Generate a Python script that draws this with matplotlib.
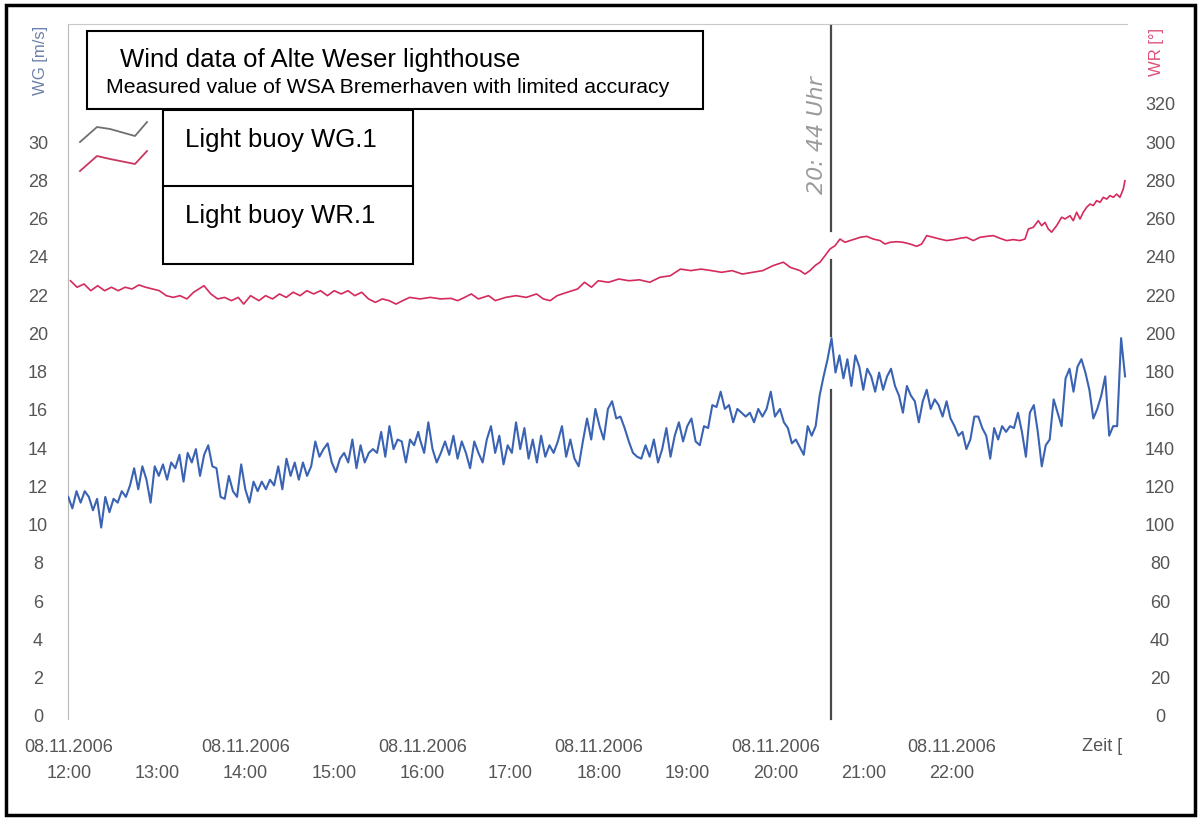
import numpy as np
import matplotlib
matplotlib.use("Agg")
import matplotlib.pyplot as plt
from matplotlib.patches import Rectangle
from matplotlib.lines import Line2D

plt.rcParams['font.family'] = ['Liberation Sans', 'DejaVu Sans']

# ---------------- data ----------------
# Wind speed WG [m/s], light buoy WG.1, three consecutive pieces (minutes after 12:00)
wg_part1_span = (-0.5, 237.3)
wg_part1 = [11.4, 10.8, 11.7, 11.1, 11.7, 11.4, 10.7, 11.3, 9.8, 11.4,
            10.6, 11.3, 11.1, 11.7, 11.4, 12.0, 12.9, 11.8, 13.0, 12.3,
            11.1, 13.0, 12.5, 13.1, 12.3, 13.2, 12.9, 13.6, 12.2, 13.7,
            13.2, 13.9, 12.5, 13.6, 14.1, 13.0, 12.9, 11.4, 11.3, 12.5,
            11.7, 11.4, 13.1, 11.8, 11.1, 12.2, 11.7, 12.2, 11.8, 12.3,
            12.0, 13.0, 11.8, 13.4, 12.5, 13.2, 12.3, 13.2, 12.5, 13.0,
            14.3, 13.5, 13.9, 14.2, 13.2, 12.7, 13.4, 13.7, 13.2, 14.4,
            12.9, 14.1, 13.2, 13.7, 13.9, 13.7, 14.8, 13.5, 15.1, 13.9,
            14.4, 14.3, 13.2, 14.4, 14.1, 14.8]
wg_part2_span = (238.5, 479.7)
wg_part2 = [14.4, 13.7, 15.3, 13.9, 13.2, 13.7, 14.3, 13.6, 14.6, 13.4,
            14.3, 13.7, 12.9, 14.3, 13.7, 13.2, 14.4, 15.1, 13.7, 14.6,
            13.1, 14.1, 13.7, 15.3, 13.9, 15.0, 13.4, 14.4, 13.2, 14.6,
            13.5, 14.1, 13.7, 14.3, 15.1, 13.5, 14.4, 13.4, 13.0, 14.3,
            15.5, 14.4, 16.0, 15.1, 14.4, 16.0, 16.4, 15.5, 15.6, 15.0,
            14.3, 13.7, 13.5, 13.4, 14.1, 13.5, 14.4, 13.2, 13.9, 15.0,
            13.5, 14.6, 15.3, 14.3, 15.1, 15.5, 14.3, 14.1, 15.1, 15.0,
            16.2, 16.1, 16.9, 16.0, 16.2, 15.3, 16.0, 15.8, 15.6, 15.8,
            15.3, 16.0, 15.6, 16.0, 16.9, 15.6]
wg_part3_span = (483.1, 717.6)
wg_part3 = [16.0, 15.3, 15.0, 14.2, 14.4, 14.0, 13.6, 15.1, 14.6, 15.1,
            16.7, 17.7, 18.6, 19.7, 17.9, 18.8, 17.6, 18.6, 17.2, 18.8,
            18.2, 17.0, 18.1, 17.7, 16.9, 17.9, 17.0, 17.7, 18.1, 17.2,
            16.7, 15.8, 17.2, 16.7, 16.4, 15.3, 16.4, 17.0, 16.0, 16.5,
            16.2, 15.6, 16.4, 15.5, 15.1, 14.6, 14.8, 13.9, 14.4, 15.6,
            15.6, 15.0, 14.6, 13.4, 15.0, 14.4, 15.1, 14.8, 15.1, 15.0,
            15.8, 14.8, 13.5, 15.8, 16.2, 14.8, 13.0, 14.1, 14.4, 16.5,
            15.8, 15.1, 17.6, 18.1, 16.9, 18.2, 18.6, 17.9, 17.0, 15.5,
            16.0, 16.7, 17.7, 14.6, 15.1, 15.1, 19.7, 17.7]

# Wind direction WR [deg], light buoy WR.1
wr_minutes = [1, 5.5, 10.2, 14.8, 19.5, 24.2, 28.8, 33.5, 38.1, 42.8,
              47.5, 52.1, 56.8, 61.4, 66.1, 70.8, 75.4, 80.1, 84.7, 91.7,
              96.4, 101.0, 105.7, 110.4, 115.0, 118.7, 123.4, 129.0, 133.6, 138.3,
              143.0, 147.6, 152.3, 157.0, 161.6, 166.3, 170.9, 175.6, 180.2, 184.9,
              189.6, 194.2, 198.9, 203.5, 208.2, 212.9, 217.5, 222.2, 226.8, 231.5,
              238.5, 245.5, 252.5, 259.4, 264.1, 268.8, 273.4, 278.1, 285.1, 289.7,
              296.7, 303.7, 310.7, 317.7, 322.3, 327.0, 331.7, 338.6, 345.6, 350.3,
              355.0, 359.6, 366.6, 373.6, 380.6, 387.6, 394.6, 401.5, 408.5, 415.5,
              422.5, 429.5, 436.5, 443.5, 450.5, 457.5, 464.4, 471.4, 478.4, 485.4,
              490.1,
              496.7, 500.1, 503.5, 506.9, 510.3, 513.7, 517.1, 520.5, 523.9, 527.3,
              530.7, 534.1, 537.5, 542.0, 546.5, 551.1, 554.5, 557.9, 562.4, 566.9,
              571.5, 576.0, 579.4, 582.8, 587.3, 591.8, 596.4, 600.9, 605.4, 609.9,
              614.5, 619.0, 623.5, 628.1, 632.6, 637.1, 641.7, 646.2, 649.6, 651.9,
              655.2, 658.6, 660.9, 663.2, 665.4, 667.7, 671.1, 674.5, 676.8, 680.2,
              682.4, 684.7, 687.0, 689.2, 691.5, 693.8, 696.0, 698.3, 700.6, 702.8,
              705.1, 707.4, 709.6, 711.9, 714.1, 716.4, 717.5]
wr_deg = [227.0, 223.6, 225.3, 221.8, 224.4, 221.8, 223.6, 221.8, 223.6, 222.7,
          224.8, 223.6, 222.7, 221.8, 219.2, 218.3, 219.2, 217.5, 221.0, 224.4,
          220.1, 217.5, 218.3, 216.6, 218.3, 214.8, 219.2, 216.6, 219.2, 217.5,
          220.1, 218.3, 221.0, 219.2, 221.8, 220.1, 221.8, 219.2, 221.8, 220.1,
          221.8, 219.2, 221.0, 217.5, 215.7, 217.5, 216.6, 214.8, 216.6, 218.3,
          217.5, 218.3, 217.5, 217.8, 216.6, 218.3, 220.1, 217.5, 219.2, 216.6,
          218.3, 219.2, 218.3, 220.1, 217.5, 216.6, 219.2, 221.0, 222.7, 226.2,
          223.6, 227.0, 226.2, 227.9, 227.0, 227.5, 226.2, 228.8, 229.6, 233.1,
          232.3, 233.1, 232.3, 231.4, 232.3, 230.5, 231.4, 232.3, 234.9, 236.7,
          234.0,
          232.3, 230.5, 232.3, 234.9, 236.7, 240.1, 243.6, 245.3, 248.8, 247.1,
          248.0, 248.8, 249.7, 250.2, 248.8, 248.0, 246.2, 247.1, 247.4, 247.1,
          246.2, 245.0, 246.2, 250.6, 249.7, 248.8, 248.0, 248.5, 249.2, 249.7,
          248.0, 249.7, 250.2, 250.6, 249.2, 248.0, 248.5, 248.0, 248.8, 254.1,
          254.9, 258.4, 255.8, 257.5, 254.1, 252.4, 255.8, 260.2, 259.3, 261.0,
          258.4, 262.8, 259.3, 262.8, 265.4, 267.1, 266.3, 268.9, 268.0, 270.6,
          269.7, 271.5, 270.6, 272.3, 270.6, 275.0, 279.3]

tick_hours = list(range(12, 23))
date_label = "08.11.2006"
wg_ticks = list(range(0, 31, 2))
wr_ticks = list(range(0, 321, 20))
marker_minute = 518          # hand-drawn vertical line ("20:44 Uhr")
marker_gaps_wg = [(-0.2, 17.0), (19.8, 23.8), (25.3, 36.0)]

title = "Wind data of Alte Weser lighthouse"
subtitle = "Measured value of WSA Bremerhaven with limited accuracy"
legend_labels = ["Light buoy WG.1", "Light buoy WR.1"]

# ---------------- figure ----------------
W, H = 1198, 820
fig = plt.figure(figsize=(W / 100, H / 100), dpi=100)
fig.patch.set_facecolor('white')

def fx(px):
    return px / W

def fy(py):
    return 1 - py / H

ax_l, ax_r, ax_t, ax_b = 68, 1127, 25, 720
ax = fig.add_axes([fx(ax_l), fy(ax_b), (ax_r - ax_l) / W, (ax_b - ax_t) / H])
ax2 = ax.twinx()

px_per_min = 88.3 / 60.0
x0 = -1 / px_per_min
ax.set_xlim(x0, x0 + (ax_r - ax_l) / px_per_min)
px_per_ms = 19.13
ylo = -(ax_b - 716) / px_per_ms
yhi = ylo + (ax_b - ax_t) / px_per_ms
ax.set_ylim(ylo, yhi)
ax2.set_ylim(ylo * 10, yhi * 10)

wg_minutes = np.concatenate([np.linspace(*wg_part1_span, len(wg_part1)),
                             np.linspace(*wg_part2_span, len(wg_part2)),
                             np.linspace(*wg_part3_span, len(wg_part3))])
wg_values = np.array(wg_part1 + wg_part2 + wg_part3)

ax.plot(wg_minutes, wg_values, color='#3b63b3', lw=1.5, solid_joinstyle='round', zorder=3)
ax2.plot(wr_minutes, wr_deg, color='#d42a5c', lw=1.2, solid_joinstyle='round', zorder=3)

for lo, hi in marker_gaps_wg:
    ax.plot([marker_minute, marker_minute], [lo, hi], color='#4a4a4a', lw=1.6,
            zorder=4, clip_on=False)

# spines
for s in ['right', 'bottom']:
    ax.spines[s].set_visible(False)
ax.spines['left'].set_color('#b8b8b8')
ax.spines['top'].set_color('#c8c8c8')
for s in ax2.spines.values():
    s.set_visible(False)

tick_color = '#555555'
fs = 13
ax.set_yticks(wg_ticks)
ax.set_yticklabels([str(v) for v in wg_ticks])
ax.tick_params(axis='y', length=0, pad=21.6, labelsize=fs, labelcolor=tick_color)
for lbl in ax.get_yticklabels():
    lbl.set_horizontalalignment('center')

ax2.set_yticks(wr_ticks)
ax2.set_yticklabels([str(v) for v in wr_ticks])
ax2.tick_params(axis='y', length=0, pad=23.8, labelsize=fs, labelcolor=tick_color)
for lbl in ax2.get_yticklabels():
    lbl.set_horizontalalignment('center')

ax.set_xticks([(h - 12) * 60 for h in tick_hours])
ax.set_xticklabels([(date_label if h % 2 == 0 else "") + "\n%02d:00" % h for h in tick_hours])
ax.tick_params(axis='x', length=0, pad=14, labelsize=fs, labelcolor=tick_color)
for lbl in ax.get_xticklabels():
    lbl.set_linespacing(1.65)

fig.text(fx(1082), fy(747), "Zeit [", ha='left', va='center', fontsize=fs, color=tick_color)

# axis titles
fig.text(fx(41), fy(60), "WG [m/s]", rotation=90, ha='center', va='center',
         fontsize=12, color='#6d80aa')
fig.text(fx(1156), fy(52), "WR [\u00b0]", rotation=90, ha='center', va='center',
         fontsize=12, color='#e05078')

# handwritten annotation
fig.text(fx(817), fy(135), "20: 44 Uhr", rotation=90, ha='center', va='center',
         fontsize=16, color='#9a9a9a', fontstyle='italic', family='DejaVu Sans')

# title box
fig.add_artist(Rectangle((fx(87), fy(110)), (703 - 87) / W, (110 - 32) / H,
                         transform=fig.transFigure, fill=True, fc='white', ec='black', lw=1.5, zorder=5))
fig.text(fx(120), fy(67), title, ha='left', va='baseline', fontsize=18.5, zorder=6)
fig.text(fx(106), fy(93), subtitle, ha='left', va='baseline', fontsize=15.3, zorder=6)

# legend box
fig.add_artist(Rectangle((fx(163), fy(265)), (413 - 163) / W, (265 - 111) / H,
                         transform=fig.transFigure, fill=True, fc='white', ec='black', lw=1.5, zorder=5))
fig.add_artist(Line2D([fx(163), fx(413)], [fy(187), fy(187)], transform=fig.transFigure,
                      color='black', lw=1.5, zorder=6))
fig.text(fx(185), fy(147), legend_labels[0], ha='left', va='baseline', fontsize=18.5, zorder=6)
fig.text(fx(185), fy(223), legend_labels[1], ha='left', va='baseline', fontsize=18.5, zorder=6)

# legend sample glyphs (scanned)
g_x = [80, 97, 110, 135, 147]
g_y = [143, 128, 130, 137, 123]
r_y = [172, 157, 160, 165, 152]
fig.add_artist(Line2D([fx(v) for v in g_x], [fy(v) for v in g_y], transform=fig.transFigure,
                      color='#707070', lw=1.3))
fig.add_artist(Line2D([fx(v) for v in g_x], [fy(v) for v in r_y], transform=fig.transFigure,
                      color='#c8385e', lw=1.3))

# outer frame
fig.add_artist(Rectangle((fx(6), fy(816)), (1195 - 6) / W, (816 - 6) / H,
                         transform=fig.transFigure, fill=False, ec='black', lw=2.5, zorder=10))

fig.savefig("out.png", dpi=100, facecolor='white')
